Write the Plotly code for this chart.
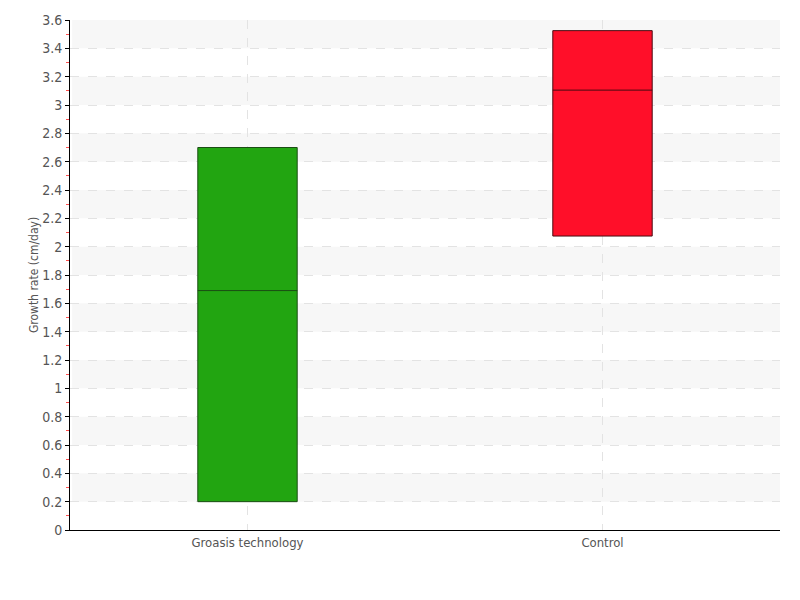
import plotly.graph_objects as go

categories = ["Groasis technology", "Control"]
q1_vals = [0.2, 2.075]
median_vals = [1.69, 3.105]
q3_vals = [2.7, 3.525]
fill_colors = ["#22a511", "#ff0f29"]
line_colors = ["#1b4d14", "#4a0a10"]
y_ticks = [round(i * 0.2, 1) for i in range(19)]
y_tick_labels = [("%g" % v) for v in y_ticks]

fig = go.Figure()
for cat, q1, med, q3, fc, lc in zip(categories, q1_vals, median_vals, q3_vals, fill_colors, line_colors):
    fig.add_trace(go.Box(
        x=[cat], q1=[q1], median=[med], q3=[q3],
        lowerfence=[q1], upperfence=[q3],
        fillcolor=fc, line=dict(color=lc, width=1),
        whiskerwidth=0, width=0.28, boxpoints=False,
        showlegend=False, hoverinfo="skip",
    ))

# alternating background bands
shapes = []
for i in range(1, len(y_ticks) - 1, 2):
    shapes.append(dict(type="rect", xref="paper", yref="y", x0=0.003, x1=1,
                       y0=y_ticks[i], y1=y_ticks[i + 1],
                       fillcolor="#f7f7f7", line=dict(width=0), layer="below"))

font_family = "DejaVu Sans Condensed, Liberation Sans Narrow, sans-serif"
fig.update_layout(
    width=800, height=600,
    margin=dict(l=62, r=28, t=12, b=78),
    plot_bgcolor="white", paper_bgcolor="white",
    font=dict(family=font_family, color="#555555", size=14),
    boxmode="overlay",
    shapes=shapes,
    xaxis=dict(
        type="category", categoryorder="array", categoryarray=categories,
        range=[-0.5, 1.5], automargin=False,
        showline=True, linecolor="#000000", linewidth=1,
        showgrid=True, gridcolor="#e3e3e3", griddash="dash", gridwidth=1,
        ticks="", ticklabelstandoff=0,
        tickfont=dict(size=13, color="#555555"),
        zeroline=False,
    ),
    yaxis=dict(
        range=[0, 3.6], tickvals=y_ticks, ticktext=y_tick_labels, automargin=False,
        showline=True, linecolor="#000000", linewidth=1,
        showgrid=True, gridcolor="#e3e3e3", griddash="dash", gridwidth=1,
        ticks="outside", ticklen=4, tickcolor="#000000",
        tickfont=dict(size=14, color="#555555"),
        zeroline=False,
        minor=dict(dtick=0.1, tick0=0, ticks="outside", ticklen=3, tickcolor="#ff5050", showgrid=False),
        title=dict(text="Growth rate (cm/day)", font=dict(size=12, color="#555555"), standoff=0),
    ),
)
fig.write_html("out.html")
